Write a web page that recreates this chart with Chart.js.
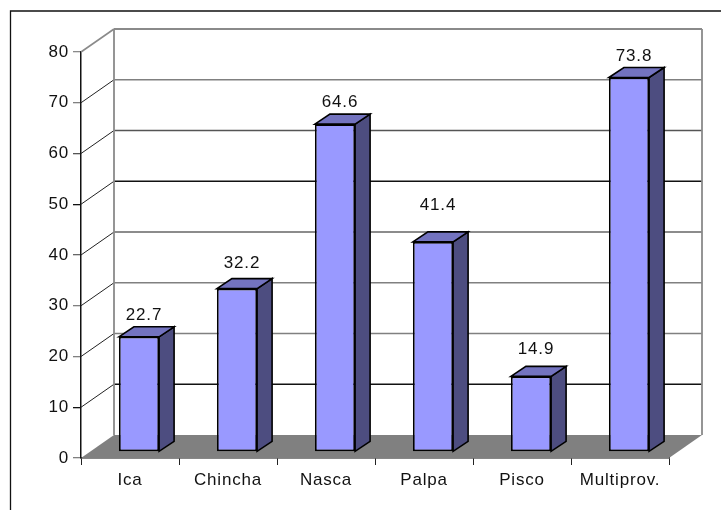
<!DOCTYPE html>
<html>
<head>
<meta charset="utf-8">
<style>
  html, body { margin: 0; padding: 0; background: #fff; overflow: hidden; }
  canvas { display: block; }
</style>
<script src="https://cdn.jsdelivr.net/npm/chart.js@4"></script>
</head>
<body>
<canvas id="chart" width="721" height="510"></canvas>
<script>
const categories = ["Ica", "Chincha", "Nasca", "Palpa", "Pisco", "Multiprov."];
const values = [22.7, 32.2, 64.6, 41.4, 14.9, 73.8];
const valueLabels = ["22.7", "32.2", "64.6", "41.4", "14.9", "73.8"];

// how far each value label sits above its bar, the original has them uneven
const labelLift = [21, 25, 22, 37, 27, 21];

// the scaled original renders its hairlines in different greys, by tick value
const lineGrey = { 80: "#8a8a8a", 70: "#808080", 60: "#555", 50: "#111", 40: "#666", 30: "#808080", 20: "#808080", 10: "#111", 0: "#808080" };

const WALL_DX = 33, WALL_DY = -23;   // depth of the floor and the walls
const BAR_DX = 9, BAR_DY = -6;       // bars stand a bit into the floor
const SIDE_DX = 15, SIDE_DY = -10;   // depth of a bar
const FONT = "Liberation Sans, Arial, sans-serif";
const FONT_SIZE = 17;

function polygon(ctx, points, fill, stroke, width) {
    ctx.beginPath();
    points.forEach((p, i) => i ? ctx.lineTo(p[0], p[1]) : ctx.moveTo(p[0], p[1]));
    ctx.closePath();
    if (fill) { ctx.fillStyle = fill; ctx.fill(); }
    if (stroke) { ctx.strokeStyle = stroke; ctx.lineWidth = width; ctx.stroke(); }
}

function line(ctx, x1, y1, x2, y2, color, width) {
    ctx.beginPath();
    ctx.moveTo(x1, y1);
    ctx.lineTo(x2, y2);
    ctx.strokeStyle = color;
    ctx.lineWidth = width;
    ctx.stroke();
}

const box3d = {
    id: "box3d",
    beforeDraw(chart) {
        const ctx = chart.ctx;
        // outer frame runs off the right and bottom of the picture
        ctx.save();
        ctx.beginPath();
        ctx.moveTo(10.5, 510);
        ctx.lineTo(10.5, 11);
        ctx.lineTo(721, 11);
        ctx.strokeStyle = "#111";
        ctx.lineWidth = 1.3;
        ctx.stroke();
        ctx.restore();
        ctx.letterSpacing = "0.8px";
    },
    beforeDatasetsDraw(chart) {
        const ctx = chart.ctx;
        const { left, right, top, bottom } = chart.chartArea;
        const y = chart.scales.y;
        ctx.save();
        // floor
        polygon(ctx, [[left, bottom], [left + WALL_DX, bottom + WALL_DY],
            [right + WALL_DX, bottom + WALL_DY], [right, bottom]], "#808080");
        // wall lines
        y.ticks.forEach((t) => {
            const py = y.getPixelForValue(t.value);
            if (t.value > 0) {
                const top80 = t.value === 80;
                line(ctx, left + WALL_DX, py + WALL_DY, right + WALL_DX, py + WALL_DY, lineGrey[t.value], top80 ? 1.8 : 1.3);
                line(ctx, left, py, left + WALL_DX, py + WALL_DY, top80 ? "#8a8a8a" : "#222", top80 ? 1.6 : 1);
            }
        });
        line(ctx, left + WALL_DX, top + WALL_DY, left + WALL_DX, bottom + WALL_DY, "#8a8a8a", 1.8);
        line(ctx, right + WALL_DX, top + WALL_DY, right + WALL_DX, bottom + WALL_DY, "#8a8a8a", 1.8);
        ctx.restore();
    },
    beforeDatasetDraw(chart) {
        const ctx = chart.ctx;
        ctx.save();
        ctx.translate(BAR_DX, BAR_DY);
        chart.getDatasetMeta(0).data.forEach((bar) => {
            const l = bar.x - bar.width / 2, r = bar.x + bar.width / 2;
            polygon(ctx, [[r, bar.y], [r + SIDE_DX, bar.y + SIDE_DY], [r + SIDE_DX, bar.base + SIDE_DY], [r, bar.base]], "#4d4d80", "#000", 1.6);
            polygon(ctx, [[l, bar.y], [l + SIDE_DX, bar.y + SIDE_DY], [r + SIDE_DX, bar.y + SIDE_DY], [r, bar.y]], "#7373bf", "#000", 1.6);
        });
    },
    afterDatasetDraw(chart) {
        chart.ctx.restore();
    },
    afterDatasetsDraw(chart) {
        const ctx = chart.ctx;
        ctx.save();
        ctx.font = FONT_SIZE + "px " + FONT;
        ctx.fillStyle = "#111";
        ctx.textAlign = "center";
        ctx.textBaseline = "middle";
        chart.getDatasetMeta(0).data.forEach((bar, i) => {
            ctx.fillText(valueLabels[i], bar.x + BAR_DX + 5, bar.y + BAR_DY - labelLift[i]);
        });
        ctx.restore();
    }
};

new Chart(document.getElementById("chart"), {
    type: "bar",
    data: {
        labels: categories,
        datasets: [{
            data: values,
            backgroundColor: "#9999ff",
            borderColor: "#000",
            borderWidth: 1.8,
            borderSkipped: false,
            barPercentage: 0.41,
            categoryPercentage: 1
        }]
    },
    plugins: [box3d],
    options: {
        responsive: false,
        animation: false,
        layout: { padding: { top: 52, right: 52, left: 0, bottom: 0 } },
        plugins: { legend: { display: false }, title: { display: false }, tooltip: { enabled: false } },
        scales: {
            x: {
                afterFit(scale) { scale.height = 52; },
                grid: { drawOnChartArea: false, color: "#222", tickLength: 7, lineWidth: 1 },
                border: { color: "#111", width: 1.5 },
                ticks: { color: "#111", font: { family: FONT, size: FONT_SIZE }, padding: 5, maxRotation: 0 }
            },
            y: {
                min: 0,
                max: 80,
                afterFit(scale) { scale.width = 81; },
                grid: {
                    drawOnChartArea: false,
                    color: (c) => lineGrey[c.tick.value],
                    tickLength: 8,
                    lineWidth: 1.3
                },
                border: { color: "#111", width: 1.5 },
                ticks: { stepSize: 10, color: "#111", font: { family: FONT, size: FONT_SIZE }, padding: 4 }
            }
        }
    }
});
</script>
</body>
</html>
